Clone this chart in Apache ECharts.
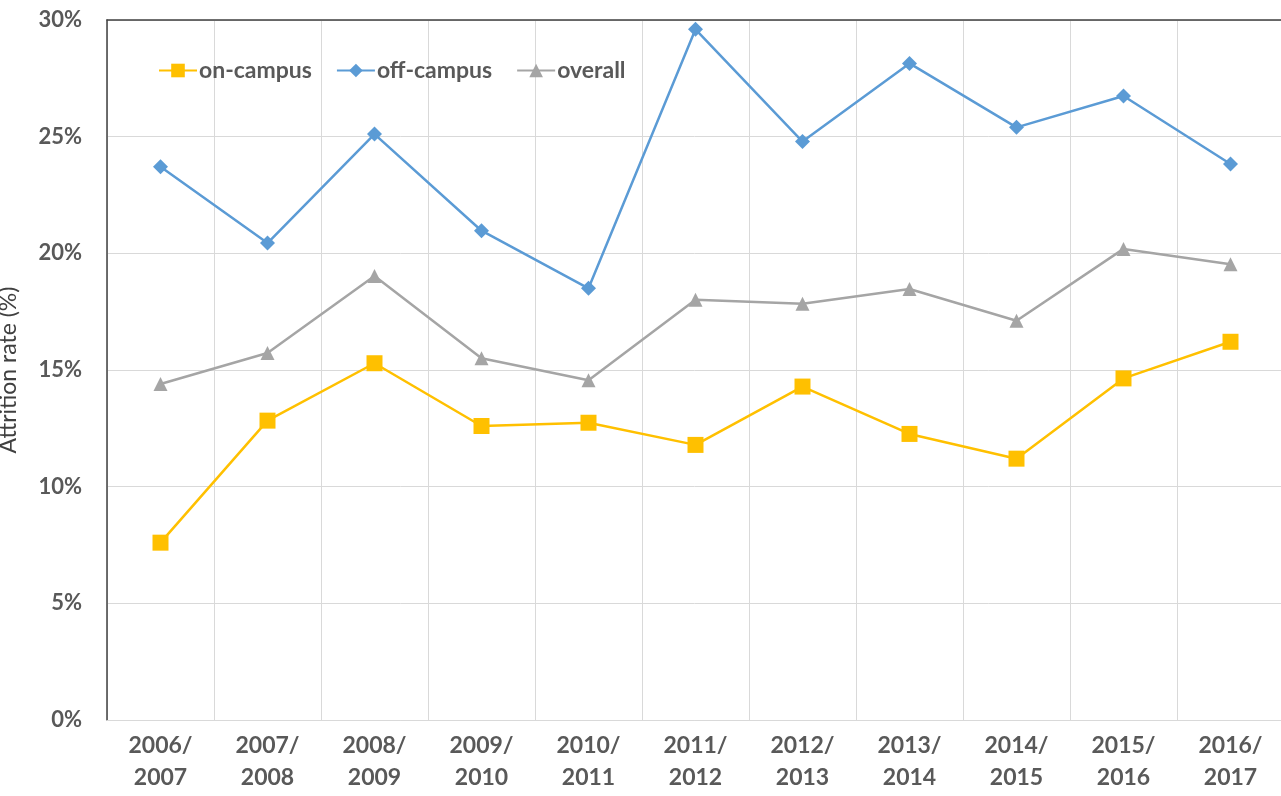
<!DOCTYPE html>
<html>
<head>
<meta charset="utf-8">
<script src="https://cdn.jsdelivr.net/npm/echarts@6/dist/echarts.min.js"></script>
<style>
  html, body { margin: 0; padding: 0; background: #fff; }
  #chart { width: 1281px; height: 796px; }
</style>
</head>
<body>
<div id="chart"></div>
<script>
// Academic years on the category axis
const years = ['2006/\n2007', '2007/\n2008', '2008/\n2009', '2009/\n2010', '2010/\n2011',
  '2011/\n2012', '2012/\n2013', '2013/\n2014', '2014/\n2015', '2015/\n2016', '2016/\n2017'];

// Attrition rates in percent
const onCampus  = [7.60, 12.83, 15.29, 12.60, 12.74, 11.79, 14.29, 12.26, 11.20, 14.64, 16.21];
const offCampus = [23.71, 20.44, 25.11, 20.97, 18.50, 29.60, 24.79, 28.14, 25.40, 26.74, 23.83];
const overall   = [14.40, 15.73, 19.03, 15.50, 14.56, 18.01, 17.84, 18.47, 17.11, 20.19, 19.53];

const FONT = 'Lato, "Open Sans", sans-serif';
const GRID = '#d9d9d9';
const AXIS = '#404040';
const TEXT = '#595959';

const chart = echarts.init(document.getElementById('chart'));

chart.setOption({
  animation: false,
  textStyle: { fontFamily: FONT },
  grid: { left: 107, right: -3, top: 20, bottom: 76, containLabel: false, outerBoundsMode: 'none' },
  legend: {
    left: 153,
    top: 54,
    itemWidth: 38,
    itemHeight: 17,
    itemGap: 24,
    textStyle: { fontFamily: FONT, fontSize: 23, fontWeight: 'bold', color: TEXT, padding: [0, 0, 0, -3] },
    data: ['on-campus', 'off-campus', 'overall']
  },
  xAxis: [{
    type: 'category',
    data: years,
    boundaryGap: true,
    axisLine: { lineStyle: { color: GRID, width: 1 } },
    axisTick: { show: false },
    splitLine: { show: true, lineStyle: { color: GRID, width: 1 } },
    axisLabel: {
      fontFamily: FONT, fontSize: 23, fontWeight: 'bold', color: TEXT,
      lineHeight: 32, margin: 10, interval: 0
    }
  }, {
    // frame line along the top of the plot
    type: 'category',
    position: 'top',
    data: years,
    axisLine: { lineStyle: { color: AXIS, width: 1.5 } },
    axisTick: { show: false },
    axisLabel: { show: false },
    splitLine: { show: false }
  }],
  yAxis: {
    type: 'value',
    min: 0, max: 30, interval: 5,
    name: 'Attrition rate (%)',
    nameLocation: 'middle',
    nameRotate: 90,
    nameGap: 87,
    nameTextStyle: { fontFamily: FONT, fontSize: 23, color: AXIS },
    axisLine: { show: true, lineStyle: { color: AXIS, width: 1.5 } },
    axisTick: { show: false },
    splitLine: { show: true, lineStyle: { color: GRID, width: 1 } },
    axisLabel: {
      formatter: '{value}%', fontFamily: FONT, fontSize: 22, fontWeight: 'bold',
      color: TEXT, margin: 25
    }
  },
  series: [{
    name: 'on-campus', type: 'line', data: onCampus,
    symbol: 'rect', symbolSize: 16,
    lineStyle: { color: '#FFC000', width: 2.5 },
    itemStyle: { color: '#FFC000' }
  }, {
    name: 'off-campus', type: 'line', data: offCampus,
    symbol: 'diamond', symbolSize: 15,
    lineStyle: { color: '#5B9BD5', width: 2.5 },
    itemStyle: { color: '#5B9BD5' }
  }, {
    name: 'overall', type: 'line', data: overall,
    symbol: 'triangle', symbolSize: 14,
    lineStyle: { color: '#A5A5A5', width: 2.5 },
    itemStyle: { color: '#A5A5A5' }
  }]
});
</script>
</body>
</html>
